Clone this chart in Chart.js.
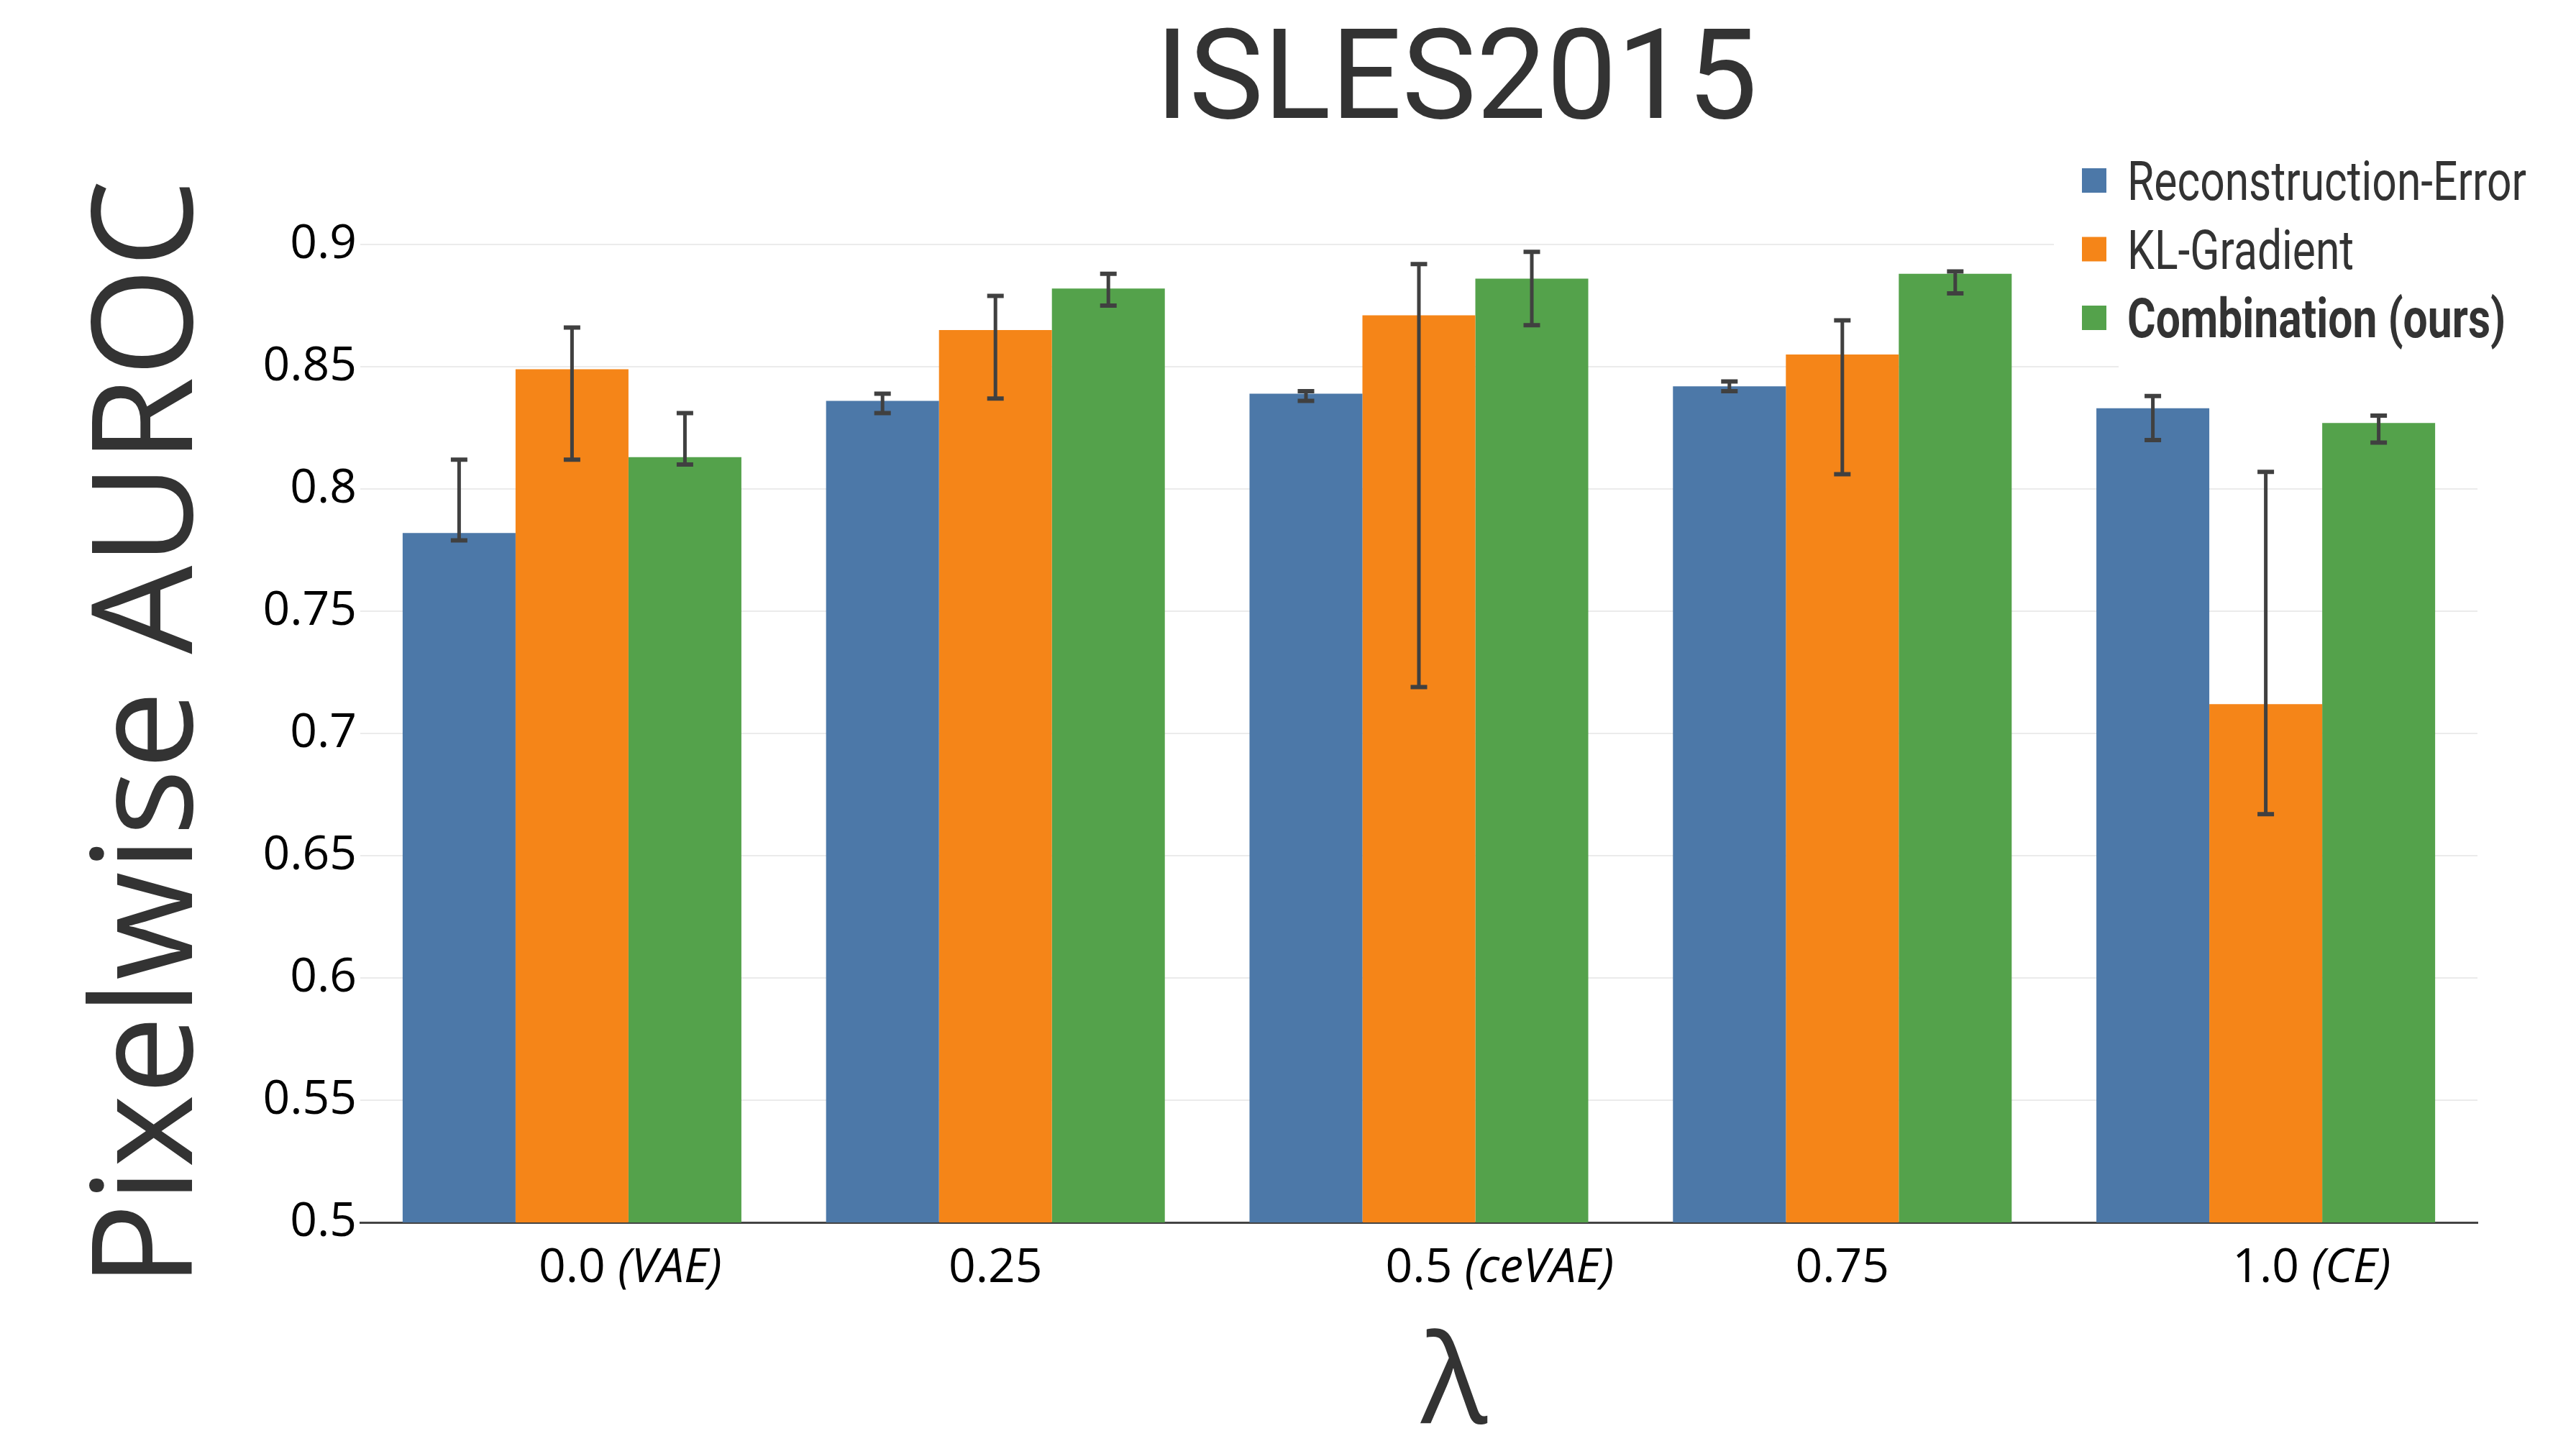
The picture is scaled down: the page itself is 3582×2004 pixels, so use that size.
<!DOCTYPE html>
<html>
<head>
<meta charset="utf-8">
<title>ISLES2015</title>
<script src="https://cdn.jsdelivr.net/npm/chart.js@4.4.1/dist/chart.umd.min.js"></script>
<style>
  html, body { margin: 0; padding: 0; background: #fff; }
  #wrap { width: 3582px; height: 2004px; }
</style>
</head>
<body>
<div id="wrap"><canvas id="chart" width="3582" height="2004"></canvas></div>
<script>
// lambda on the x axis, some values get the model name next to them
var categories = ['0.0', '0.25', '0.5', '0.75', '1.0'];
var categoryNotes = ['(VAE)', '', '(ceVAE)', '', '(CE)'];

var seriesNames = ['Reconstruction-Error', 'KL-Gradient', 'Combination (ours)'];
var seriesColors = ['#4c78a8', '#f58518', '#54a24b'];

// pixelwise AUROC, bar height and the ends of the error bar
var reconError     = [0.782, 0.836, 0.839, 0.842, 0.833];
var reconErrorLow  = [0.779, 0.831, 0.836, 0.840, 0.820];
var reconErrorHigh = [0.812, 0.839, 0.840, 0.844, 0.838];

var klGradient     = [0.849, 0.865, 0.871, 0.855, 0.712];
var klGradientLow  = [0.812, 0.837, 0.719, 0.806, 0.667];
var klGradientHigh = [0.866, 0.879, 0.892, 0.869, 0.807];

var combination     = [0.813, 0.882, 0.886, 0.888, 0.827];
var combinationLow  = [0.810, 0.875, 0.867, 0.880, 0.819];
var combinationHigh = [0.831, 0.888, 0.897, 0.889, 0.830];

var errorBars = {
	id: 'errorBars',
	afterDatasetsDraw: function(chart) {
		var ctx = chart.ctx;
		var y = chart.scales.y;
		ctx.save();
		ctx.strokeStyle = '#404040';
		chart.data.datasets.forEach(function(ds, i) {
			var meta = chart.getDatasetMeta(i);
			meta.data.forEach(function(bar, j) {
				var top = y.getPixelForValue(ds.errHigh[j]);
				var bot = y.getPixelForValue(ds.errLow[j]);
				ctx.lineWidth = 5;
				ctx.beginPath();
				ctx.moveTo(bar.x, top); ctx.lineTo(bar.x, bot);
				ctx.stroke();
				ctx.lineWidth = 6;
				ctx.beginPath();
				ctx.moveTo(bar.x - 11.5, top); ctx.lineTo(bar.x + 11.5, top);
				ctx.moveTo(bar.x - 11.5, bot); ctx.lineTo(bar.x + 11.5, bot);
				ctx.stroke();
			});
		});
		ctx.restore();
	}
};

// title, x labels with italic notes, lambda and the legend
var extras = {
	id: 'extras',
	afterDraw: function(chart) {
		var ctx = chart.ctx;
		var x = chart.scales.x;
		ctx.save();
		ctx.textBaseline = 'alphabetic';

		ctx.fillStyle = '#333';
		ctx.font = '174px Roboto';
		ctx.textAlign = 'center';
		ctx.fillText('ISLES2015', 2025, 164);

		ctx.fillStyle = '#000';
		categories.forEach(function(c, i) {
			var cx = x.getPixelForTick(i);
			ctx.font = '66px "Open Sans"';
			var w = ctx.measureText(c).width;
			var sp = ctx.measureText(' ').width;
			ctx.textAlign = 'center';
			ctx.fillText(c, cx, 1783);
			if (categoryNotes[i]) {
				ctx.font = 'italic 66px "Open Sans"';
				ctx.textAlign = 'left';
				ctx.fillText(categoryNotes[i], cx + w / 2 + sp, 1783);
			}
		});

		ctx.fillStyle = '#333';
		ctx.font = '172px "Open Sans"';
		ctx.textAlign = 'center';
		ctx.fillText('\u03bb', 2022, 1979);

		// legend sits on a white box over the top gridline
		ctx.fillStyle = '#fff';
		ctx.fillRect(2856, 200, 726, 300);
		ctx.fillRect(2946, 500, 636, 20);
		ctx.font = '76px Roboto';
		var squeeze = 555 / ctx.measureText(seriesNames[0]).width;
		seriesNames.forEach(function(name, i) {
			var cy = 251 + i * 95.5;
			ctx.fillStyle = seriesColors[i];
			ctx.fillRect(2895, cy - 17, 34, 34);
			ctx.fillStyle = '#333';
			ctx.font = (i == 2 ? 'bold ' : '') + '76px Roboto';
			ctx.save();
			ctx.translate(2958, cy + 27);
			ctx.scale(squeeze, 1);
			ctx.textAlign = 'left';
			ctx.fillText(name, 0, 0);
			ctx.restore();
		});
		ctx.restore();
	}
};

new Chart(document.getElementById('chart'), {
	type: 'bar',
	data: {
		labels: categories,
		datasets: [
			{ label: seriesNames[0], data: reconError, errLow: reconErrorLow, errHigh: reconErrorHigh, backgroundColor: seriesColors[0] },
			{ label: seriesNames[1], data: klGradient, errLow: klGradientLow, errHigh: klGradientHigh, backgroundColor: seriesColors[1] },
			{ label: seriesNames[2], data: combination, errLow: combinationLow, errHigh: combinationHigh, backgroundColor: seriesColors[2] }
		]
	},
	options: {
		responsive: false,
		animation: false,
		devicePixelRatio: 1,
		layout: { autoPadding: false, padding: { top: 340, right: 137, bottom: 304, left: 0 } },
		datasets: { bar: { categoryPercentage: 0.8, barPercentage: 1.0, borderWidth: 0 } },
		plugins: { legend: { display: false }, title: { display: false }, tooltip: { enabled: false } },
		scales: {
			x: {
				grid: { display: false },
				border: { display: true, color: '#444', width: 3 },
				ticks: { display: false },
				afterFit: function(s) { s.height = 0; }
			},
			y: {
				min: 0.5,
				max: 0.9,
				grid: { color: '#ebebeb', lineWidth: 2, drawTicks: false },
				border: { display: false },
				ticks: {
					stepSize: 0.05,
					padding: 5,
					color: '#000',
					font: { family: 'Open Sans', size: 66 },
					callback: function(v) { return String(Math.round(v * 100) / 100); }
				},
				title: {
					display: true,
					text: 'Pixelwise AUROC',
					color: '#333',
					font: { family: 'Open Sans', size: 195, lineHeight: 1 },
					padding: { top: 114, bottom: 0 }
				},
				afterFit: function(s) { s.width = 501; }
			}
		}
	},
	plugins: [errorBars, extras]
});
</script>
</body>
</html>
